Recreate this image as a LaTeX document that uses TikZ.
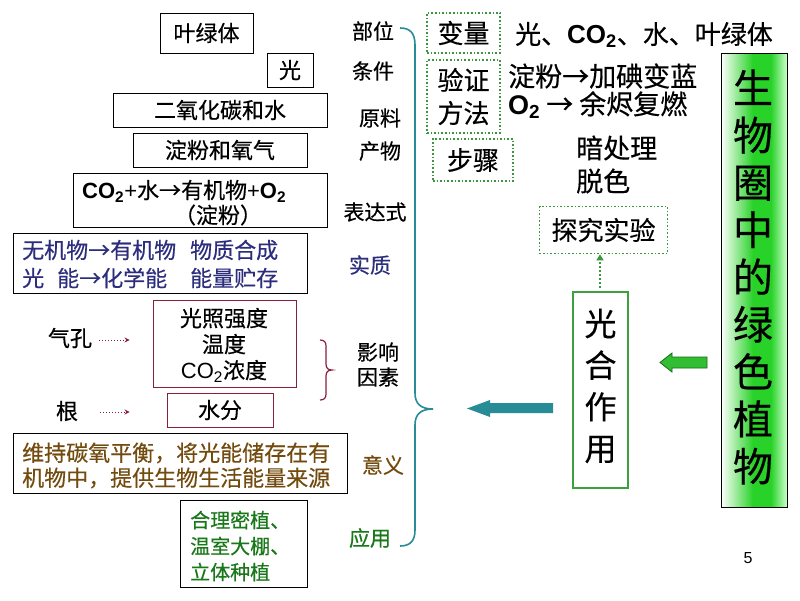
\documentclass[tikz,border=0pt]{standalone}
\usepackage{fontspec}
\setmainfont{Noto Sans CJK SC}[FakeBold=0.4]
\newfontfamily\lat{Liberation Sans}
\usetikzlibrary{arrows.meta,calc}
\definecolor{tealc}{RGB}{40,140,150}
\definecolor{navy}{RGB}{45,45,125}
\definecolor{brownc}{RGB}{115,75,15}
\definecolor{greent}{RGB}{25,120,25}
\definecolor{dred}{RGB}{140,30,60}
\definecolor{dotg}{RGB}{60,150,60}
\definecolor{boxg}{RGB}{60,160,60}
\definecolor{arrg}{RGB}{50,190,50}
\definecolor{arrgd}{RGB}{20,110,20}
\definecolor{brightg}{RGB}{40,210,40}
\newcommand\fsz[2]{\fontsize{#1}{#2}\selectfont}
\begin{document}
\begin{tikzpicture}[x=1pt,y=-1pt,
  bbox/.style={draw=black, line width=0.9pt, inner sep=0pt},
  rbox/.style={draw=dred, line width=0.9pt, inner sep=0pt},
  dbox/.style={draw=dotg, line width=1.6pt, dotted, inner sep=0pt, align=center, font=\fsz{26}{33}},
  txt/.style={inner sep=0pt},
  lbl/.style={inner sep=0pt, font=\fsz{21}{25}},
  dredarrow/.style={dred, line width=1pt, dotted, -{Stealth[length=5pt,width=5pt]}},
]
\useasboundingbox (0,0) rectangle (800,600);
\fill[white] (0,0) rectangle (800,600);

% ---- left column boxes
\node[bbox, minimum width=93pt, minimum height=40pt, font=\fsz{22}{26}] (ylt) at (206.5,33) {叶绿体};
\node[bbox, minimum width=46pt, minimum height=34pt, font=\fsz{22}{26}] (guang) at (290,70) {光};
\node[bbox, minimum width=214pt, minimum height=34pt, font=\fsz{22}{26}] (yl) at (220,110) {二氧化碳和水};
\node[bbox, minimum width=174pt, minimum height=34pt, font=\fsz{22}{26}] (cw) at (220,150) {淀粉和氧气};

\node[bbox, minimum width=254pt, minimum height=54pt] (bds) at (200,200) {};
\node[txt, anchor=west, font=\fsz{22}{26}] (bds1) at (82,191) {{\lat\bfseries CO\textsubscript{2}}{\lat +}水→有机物{\lat +\bfseries O\textsubscript{2}}};
\node[txt, font=\fsz{22}{26}] (bds2) at (218,215) {（淀粉）};

\node[bbox, minimum width=294pt, minimum height=60pt] (sz) at (160,263) {};
\node[txt, anchor=west, navy, font=\fsz{22}{26}] (sz1) at (22,250) {无机物→有机物};
\node[txt, anchor=west, navy, font=\fsz{22}{26}] (sz2) at (190,250) {物质合成};
\node[txt, anchor=west, navy, font=\fsz{22}{26}] (sz3) at (22,278) {光};
\node[txt, anchor=west, navy, font=\fsz{22}{26}] (sz4) at (57,278) {能→化学能};
\node[txt, anchor=west, navy, font=\fsz{22}{26}] (sz5) at (190,278) {能量贮存};

\node[rbox, minimum width=143pt, minimum height=87pt] (yz) at (224.5,343.5) {};
\node[txt, align=center, font=\fsz{22}{26}] (yzt) at (224,345) {光照强度\\温度\\{\lat CO\textsubscript{2}}浓度};
\node[rbox, minimum width=106pt, minimum height=34pt, font=\fsz{22}{26}] (sf) at (220,410) {水分};

\node[txt, font=\fsz{22}{26}] (qk) at (70,338) {气孔};
\node[txt, font=\fsz{22}{26}] (gen) at (67,411) {根};
\draw[dredarrow, shorten <=7pt, shorten >=23pt] (qk.east |- 0,340) -- (yz.west |- 0,340);
\draw[dredarrow, shorten <=22pt, shorten >=37pt] (gen.east |- 0,412) -- (sf.west |- 0,412);

\node[bbox, minimum width=334pt, minimum height=60pt] (yy) at (180,463) {};
\node[txt, anchor=west, brownc, font=\fsz{22}{26}] (yy1) at (22,453) {维持碳氧平衡，将光能储存在有};
\node[txt, anchor=west, brownc, font=\fsz{22}{26}] (yy2) at (22,478) {机物中，提供生物生活能量来源};

\node[bbox, minimum width=127pt, minimum height=87pt] (yyg) at (243.5,543.5) {};
\node[txt, anchor=west, greent, font=\fsz{20}{26}] (yyg1) at (190,520) {合理密植、};
\node[txt, anchor=west, greent, font=\fsz{20}{26}] (yyg2) at (190,546) {温室大棚、};
\node[txt, anchor=west, greent, font=\fsz{20}{26}] (yyg3) at (190,572) {立体种植};

% ---- labels
\node[lbl] (l1) at (373,31) {部位};
\node[lbl] (l2) at (373,71) {条件};
\node[lbl] (l3) at (380,118) {原料};
\node[lbl] (l4) at (380,151) {产物};
\node[lbl] (l5) at (375,212) {表达式};
\node[lbl, navy] (l6) at (370,265) {实质};
\node[lbl] (l7) at (378,352) {影响};
\node[lbl] (l8) at (378,377) {因素};
\node[lbl, brownc] (l9) at (383,465) {意义};
\node[lbl, greent] (l10) at (370,538) {应用};

% ---- braces
\draw[dred, line width=1.2pt] (320,340) .. controls (324,340) and (326,342) .. (326,346) -- (326,364) .. controls (326,368) and (328,370) .. (332,370) .. controls (328,370) and (326,372) .. (326,376) -- (326,394) .. controls (326,398) and (324,400) .. (320,400);
\coordinate (btip) at (433,409);
\draw[tealc, line width=1.6pt] (400,28) .. controls (410,28) and (415,33) .. (415,45) -- (415,393) .. controls (415,404) and (421,409) .. (btip) .. controls (421,409) and (415,414) .. (415,425) -- (415,530) .. controls (415,541) and (410,546) .. (400,546);

% ---- centre
\node[draw=boxg, line width=2.5pt, minimum width=55pt, minimum height=196pt] (gh) at (600.5,390) {};
\node[txt, align=center, font=\fsz{32}{41.6}] (ght) at (600.5,386) {光\\合\\作\\用};
\fill[tealc] (553,403) -- (490,403) -- (490,400) -- (467,408.5) -- (490,417) -- (490,413) -- (553,413) -- cycle;

% ---- right top
\node[dbox, minimum width=73pt, minimum height=40pt] (bl) at (463.5,33) {变量};
\node[dbox, minimum width=73pt, minimum height=73pt] (yz2) at (463.5,96.5) {验证\\方法};
\node[dbox, minimum width=80pt, minimum height=42pt] (bz) at (473,160) {步骤};
\node[dbox, minimum width=128pt, minimum height=47pt] (tj) at (603.5,230) {探究实验};
\draw[dotg, line width=2pt, dotted, -{Triangle[length=6pt,width=7pt]}, shorten <=3pt] (gh.north -| 600,0) -- (tj.south -| 600,0);

\node[txt, anchor=west, font=\fsz{26}{30}] (blt) at (515,35) {光、{\lat\bfseries CO\textsubscript{2}}、水、叶绿体};
\node[txt, anchor=west, font=\fsz{27}{30}] (yzt1) at (508,76) {淀粉→加碘变蓝};
\node[txt, anchor=west, font=\fsz{27}{30}] (yzt2) at (508,105) {{\lat\bfseries O\textsubscript{2}} → 余烬复燃};
\node[txt, anchor=west, font=\fsz{27}{30}] (bz1) at (576,148) {暗处理};
\node[txt, anchor=west, font=\fsz{27}{30}] (bz2) at (576,181) {脱色};

% ---- big green box
\shade[left color=white, right color=brightg] (721,53) rectangle (753,507);
\fill[brightg] (753,53) rectangle (771,507);
\shade[left color=brightg, right color=green!20!white] (771,53) rectangle (787,507);
\node[draw=black, line width=1pt, minimum width=66pt, minimum height=454pt, inner sep=0pt] (sw) at (754,280) {};
\node[txt, align=center, font=\fsz{40}{47.3}] (swt) at (753,277) {生\\物\\圈\\中\\的\\绿\\色\\植\\物};
\fill[arrg, draw=arrgd, line width=0.8pt] (707,357) -- (672,357) -- (672,353) -- (660,362.5) -- (672,372) -- (672,368) -- (707,368) -- cycle;

\node[txt, font=\lat\fsz{16}{18}] (pg) at (748,558) {5};
\end{tikzpicture}
\end{document}
